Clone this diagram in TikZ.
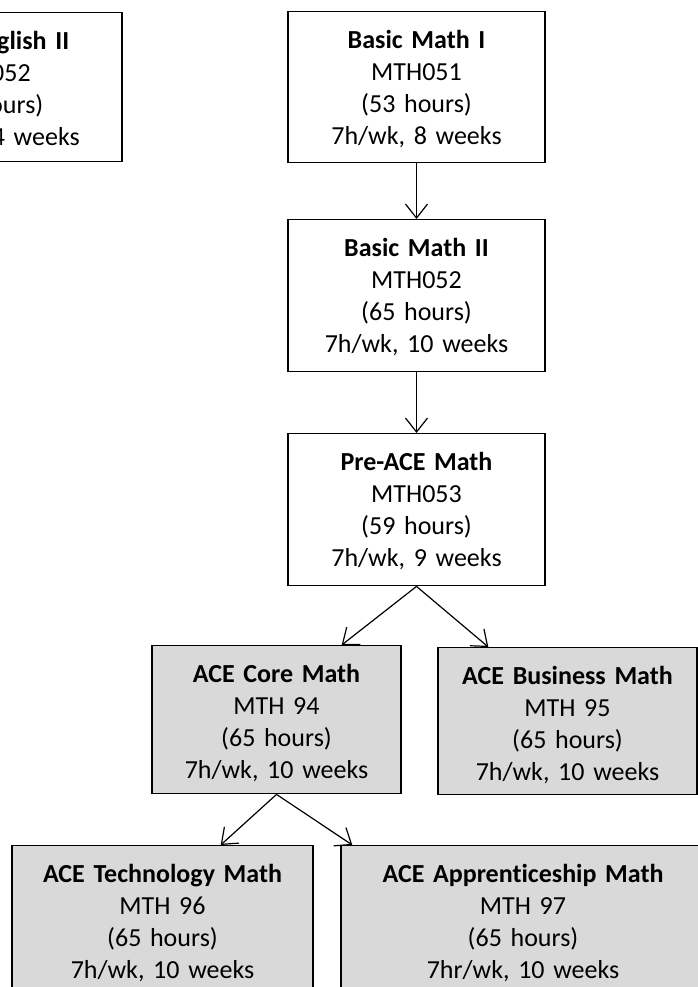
\documentclass[tikz,border=0pt]{standalone}
\usepackage{fontspec}
\setmainfont{Carlito}[Ligatures=CommonOff]
\usetikzlibrary{arrows.meta}
\definecolor{boxgray}{HTML}{D9D9D9}
\tikzset{
  course/.style 2 args={draw, line width=1.4pt, align=center, anchor=north,
    inner xsep=0pt, inner ysep=0pt, text width=#1, text height=37pt, text depth=#2,
    font=\fontsize{26}{32}\selectfont},
  acecourse/.style 2 args={course={#1}{#2}, fill=boxgray},
  link/.style={line width=1.2pt, -{Straight Barb[length=14pt,width=22pt,line width=1.2pt]}}
}
\begin{document}
\begin{tikzpicture}[x=1pt, y=-1pt]
  \useasboundingbox (0,0) rectangle (698,987);
  \clip (0,0) rectangle (698,987);
  % top row
  \node[course={268pt}{112pt}] (eng) at (-12,12) {\textbf{Basic English II}\\ ENG052\\ (98 hours)\\ 7h/wk, 14 weeks};
  \node[course={257pt}{114pt}] (bm1) at (416.5,11) {\textbf{Basic Math I}\\ MTH051\\ (53 hours)\\ 7h/wk, 8 weeks};
  \node[course={257pt}{115pt}] (bm2) at (416.5,219) {\textbf{Basic Math II}\\ MTH052\\ (65 hours)\\ 7h/wk, 10 weeks};
  \node[course={257pt}{115pt}] (pre) at (416.5,433) {\textbf{Pre-ACE Math}\\ MTH053\\ (59 hours)\\ 7h/wk, 9 weeks};
  % ACE courses
  \node[acecourse={249pt}{111pt}] (core) at (276.5,645) {\textbf{ACE Core Math}\\ MTH 94\\ (65 hours)\\ 7h/wk, 10 weeks};
  \node[acecourse={259pt}{110pt}] (biz) at (567.5,647) {\textbf{ACE Business Math}\\ MTH 95\\ (65 hours)\\ 7h/wk, 10 weeks};
  \node[acecourse={301pt}{113pt}] (tech) at (162.5,845) {\textbf{ACE Technology Math}\\ MTH 96\\ (65 hours)\\ 7h/wk, 10 weeks};
  \node[acecourse={364pt}{113pt}] (app) at (523,845) {\textbf{ACE Apprenticeship Math}\\ MTH 97\\ (65 hours)\\ 7hr/wk, 10 weeks};
  % arrows
  \draw[link] (bm1) -- (bm2);
  \draw[link] (bm2) -- (pre);
  \draw[link] (pre.south) -- ([xshift=-60pt]core.north east);
  \draw[link] (pre.south) -- ([xshift=51pt]biz.north west);
  \draw[link] (core.south) -- ([xshift=-93pt]tech.north east);
  \draw[link] (core.south) -- ([xshift=12pt]app.north west);
\end{tikzpicture}
\end{document}
